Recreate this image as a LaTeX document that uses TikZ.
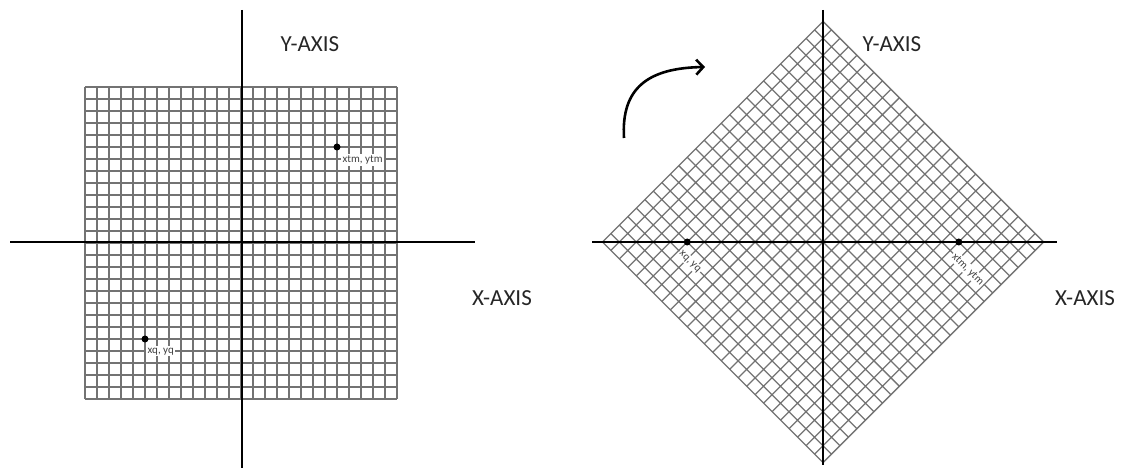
\documentclass[tikz,border=0pt]{standalone}
\usepackage{fontspec}
\setmainfont{Carlito}
\usetikzlibrary{arrows.meta}

\begin{document}
\begin{tikzpicture}[
  x=1pt, y=-1pt,
  gridline/.style={draw=black!55, line width=1.25pt},
  axis/.style={draw=black, line width=2.6pt},
  axislabel/.style={font=\fontsize{23}{27}\selectfont, text=black!85},
  pointdot/.style={circle, fill=black, inner sep=0pt, minimum size=7pt},
  pointlabel/.style={
    fill=white,
    inner sep=1.5pt,
    anchor=north west,
    font=\fontsize{11}{13}\selectfont,
    text=black!75,
  },
  turnarrow/.style={line width=2.6pt, -{Straight Barb[length=7pt, width=15pt]}},
]
\useasboundingbox (0,0) rectangle (1132,470);

% --- Original grid ---
\begin{scope}[shift={(241,243)}, y=1pt]
  \draw[gridline, step=12] (-156,-156) grid (156,156);
\end{scope}
\coordinate (LeftYTop) at (242,10);
\coordinate (LeftYBot) at (242,468);
\coordinate (LeftXL) at (10,242);
\coordinate (LeftXR) at (475,242);
\draw[axis] (LeftYTop) -- (LeftYBot);
\draw[axis] (LeftXL) -- (LeftXR);
\begin{scope}[shift={(241,243)}]
  \node[pointdot] (LeftTm) at (96,-96) {};
  \node[pointlabel] (LeftTmLabel) at (100,-89) {xtm, ytm};
  \node[pointdot] (LeftQ) at (-96,96) {};
  \node[pointlabel] (LeftQLabel) at (-95,103) {xq, yq};
\end{scope}
\node[axislabel] (LeftYLabel) at (310,44) {Y-AXIS};
\node[axislabel] (LeftXLabel) at (502,298) {X-AXIS};

% --- Rotation arrow ---
\coordinate (ArrowStart) at (624,138);
\coordinate (ArrowEnd) at (705,67);
\draw[turnarrow] (ArrowStart) .. controls (621,88) and (648,68) .. (ArrowEnd);

% --- Rotated grid (45 degrees clockwise) ---
\begin{scope}[shift={(823,242)}, y=1pt, rotate=-45]
  \draw[gridline, step=12] (-156,-156) grid (156,156);
\end{scope}
\coordinate (RightYTop) at (823,10);
\coordinate (RightYBot) at (823,465);
\coordinate (RightXL) at (592,242);
\coordinate (RightXR) at (1057,242);
\draw[axis] (RightYTop) -- (RightYBot);
\draw[axis] (RightXL) -- (RightXR);
\begin{scope}[shift={(823,242)}, rotate=-45, transform shape]
  \node[pointdot] (RightTm) at (96,-96) {};
  \node[pointlabel] (RightTmLabel) at (100,-89) {xtm, ytm};
  \node[pointdot] (RightQ) at (-96,96) {};
  \node[pointlabel] (RightQLabel) at (-95,103) {xq, yq};
\end{scope}
\node[axislabel] (RightYLabel) at (892,44) {Y-AXIS};
\node[axislabel] (RightXLabel) at (1085,298) {X-AXIS};
\end{tikzpicture}
\end{document}
